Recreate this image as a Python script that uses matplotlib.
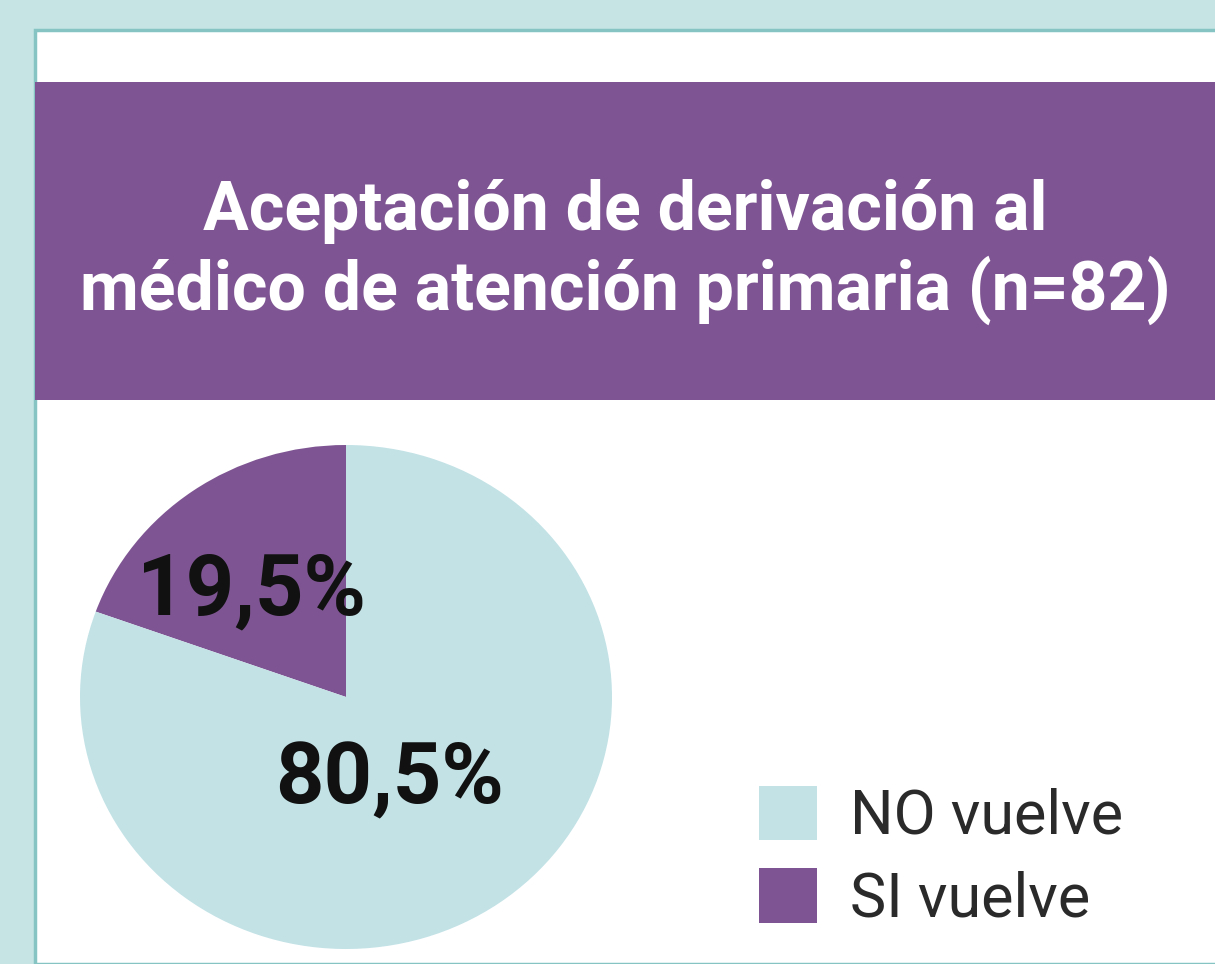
import matplotlib
matplotlib.use('Agg')
import matplotlib.pyplot as plt
from matplotlib.patches import Rectangle, Patch

# datos
labels = ['NO vuelve', 'SI vuelve']
values = [80.5, 19.5]
colors = ['#c2e2e6', '#7e5592']
title = 'Aceptación de derivación al\nmédico de atención primaria (n=82)'

W, H = 1215, 964
fig = plt.figure(figsize=(W / 100, H / 100), dpi=100)
fig.patch.set_facecolor('#c5e4e3')

# panel blanco y cabecera morada (detrás de los ejes)
fig.patches.append(Rectangle((35 / W, 0), 1.0, 1 - 30 / H, transform=fig.transFigure,
                             facecolor='white', edgecolor='#86c4c4', linewidth=2.5, zorder=-2))
fig.patches.append(Rectangle((35 / W, 1 - 400 / H), 1.0, 318 / H, transform=fig.transFigure,
                             facecolor='#7e5592', edgecolor='none', zorder=-1))
fig.text(625 / W, 1 - 252 / H, title, ha='center', va='center', color='white',
         fontsize=49, fontweight='bold', fontstretch='condensed',
         family=['Roboto', 'DejaVu Sans'], linespacing=1.22)

# tarta
ax = fig.add_axes([80 / W, 1 - 949 / H, 532 / W, 504 / H])
ax.pie(values[::-1], colors=colors[::-1], startangle=90, counterclock=True,
       wedgeprops=dict(linewidth=0))
ax.set_aspect('auto')
ax.set_xlim(-1, 1)
ax.set_ylim(-1, 1)
ax.axis('off')

fmt = lambda v: f'{v:.1f}'.replace('.', ',') + '%'
pct_font = dict(fontsize=61, fontweight='bold', fontstretch='condensed', color='#111111',
                family=['Roboto', 'DejaVu Sans'], ha='center', va='center')
ax.text(0.165, -0.33, fmt(values[0]), **pct_font)
ax.text(-0.355, 0.42, fmt(values[1]), **pct_font)

# leyenda
handles = [Patch(facecolor=c, edgecolor='none') for c in colors]
leg = fig.legend(handles, labels, loc='center left', bbox_to_anchor=(728 / W, 1 - 857 / H),
                 frameon=False, handlelength=0.95, handleheight=1.0,
                 handletextpad=0.55, labelspacing=0.36, borderpad=0,
                 prop=dict(family=['Roboto', 'DejaVu Sans'], weight='normal',
                           stretch='normal', size=44))
for t in leg.get_texts():
    t.set_color('#2a2a2a')

fig.savefig('out.png', dpi=100, facecolor=fig.get_facecolor())
